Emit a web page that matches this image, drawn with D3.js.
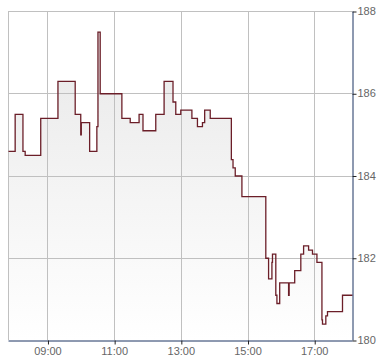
<!DOCTYPE html>
<html>
<head>
<meta charset="utf-8">
<script src="https://cdn.jsdelivr.net/npm/d3@7"></script>
<style>
  body { margin: 0; background: #fff; }
  svg { display: block; font-family: "Liberation Sans", Arial, sans-serif; }
</style>
</head>
<body>
<svg width="390" height="364"></svg>
<script>
// step data: time (hh:mm) and price
const times = ["07:49","08:01","08:15","08:19","08:47","09:18","09:49","09:59","10:00","10:15",
  "10:28","10:30","10:34","11:13","11:28","11:44","11:51","12:14","12:29","12:45",
  "12:50","12:59","13:19","13:29","13:38","13:42","13:52","14:30","14:33","14:37",
  "14:49","15:32","15:37","15:43","15:44","15:50","15:52","15:57","16:13","16:14",
  "16:24","16:35","16:40","16:49","16:56","17:04","17:13","17:14","17:20","17:23",
  "17:50","18:08"];
const prices = [184.6,185.5,184.6,184.5,185.4,186.3,185.5,185.0,185.3,184.6,
  185.2,187.5,186.0,185.4,185.3,185.5,185.1,185.5,186.3,185.8,
  185.5,185.6,185.4,185.2,185.3,185.6,185.4,184.4,184.2,184.0,
  183.5,182.0,181.5,181.9,182.1,181.1,180.9,181.4,181.1,181.4,
  181.7,182.1,182.3,182.2,182.1,181.9,180.5,180.4,180.6,180.7,
  181.1,181.1];
const yTicks = [180, 182, 184, 186, 188];
const xTicks = ["09:00", "11:00", "13:00", "15:00", "17:00"];

const parse = d3.timeParse("%Y-%m-%d %H:%M");
const day = "2012-05-10 ";
const data = times.map((t, i) => ({ t: parse(day + t), v: prices[i] }));

// Dimensions and margins
const margin = {top: 11, right: 38, bottom: 24, left: 8},
    width = 390 - margin.left - margin.right,
    height = 364 - margin.top - margin.bottom;

const svg = d3.select("svg")
    .append("g")
    .attr("transform", `translate(${margin.left},${margin.top})`);

const x = d3.scaleTime()
    .domain([parse(day + "07:49"), parse(day + "18:08")])
    .range([0, width]);

const y = d3.scaleLinear()
    .domain([180, 188])
    .range([height, 0]);

const px = v => Math.round(v) + 0.5;

// gradient under the line
const grad = svg.append("defs").append("linearGradient")
    .attr("id", "fillGrad")
    .attr("gradientUnits", "userSpaceOnUse")
    .attr("x1", 0).attr("y1", 0).attr("x2", 0).attr("y2", height);
grad.append("stop").attr("offset", "0%").attr("stop-color", "#e7e7e7");
grad.append("stop").attr("offset", "100%").attr("stop-color", "#ffffff");

const area = d3.area()
    .curve(d3.curveStepAfter)
    .x(d => x(d.t))
    .y0(height)
    .y1(d => y(d.v));

svg.append("path")
    .datum(data)
    .attr("fill", "url(#fillGrad)")
    .attr("d", area);

// grid
const xTickDates = xTicks.map(t => parse(day + t));
svg.append("g")
    .selectAll("line")
    .data(xTickDates)
    .join("line")
    .attr("x1", d => px(x(d))).attr("x2", d => px(x(d)))
    .attr("y1", 0).attr("y2", height)
    .attr("stroke", "#c0c0c0");

svg.append("g")
    .selectAll("line")
    .data(yTicks.filter(d => d > 180))
    .join("line")
    .attr("x1", 0).attr("x2", width)
    .attr("y1", d => px(y(d))).attr("y2", d => px(y(d)))
    .attr("stroke", "#c0c0c0");

// left border
svg.append("line")
    .attr("x1", 0.5).attr("x2", 0.5)
    .attr("y1", 0).attr("y2", height)
    .attr("stroke", "#c0c0c0");

// price line
const line = d3.line()
    .curve(d3.curveStepAfter)
    .x(d => x(d.t) + 0.5)
    .y(d => y(d.v) + 0.5);

svg.append("path")
    .datum(data)
    .attr("fill", "none")
    .attr("stroke", "#6b1e28")
    .attr("stroke-width", 1.3)
    .attr("d", line);

// right axis
const yAxis = svg.append("g")
    .attr("transform", `translate(${px(width)},0)`)
    .call(d3.axisRight(y).tickValues(yTicks).tickSize(4).tickPadding(1).tickSizeOuter(0));
yAxis.select(".domain").attr("stroke", "#1d3563");
yAxis.selectAll(".tick line").attr("stroke", "#222").attr("transform", "translate(0,0.5)");
yAxis.selectAll(".tick text")
    .attr("fill", "#666")
    .style("font-size", "11px");

// bottom axis
const xAxis = svg.append("g")
    .attr("transform", `translate(0,${px(height)})`)
    .call(d3.axisBottom(x).tickValues(xTickDates).tickFormat(d3.timeFormat("%H:%M"))
        .tickSize(4).tickPadding(3).tickSizeOuter(0));
xAxis.select(".domain").attr("stroke", "#1d3563");
xAxis.selectAll(".tick line").attr("stroke", "#222").attr("transform", "translate(0.5,0)");
xAxis.selectAll(".tick text")
    .attr("fill", "#666")
    .style("font-size", "11px");
</script>
</body>
</html>
